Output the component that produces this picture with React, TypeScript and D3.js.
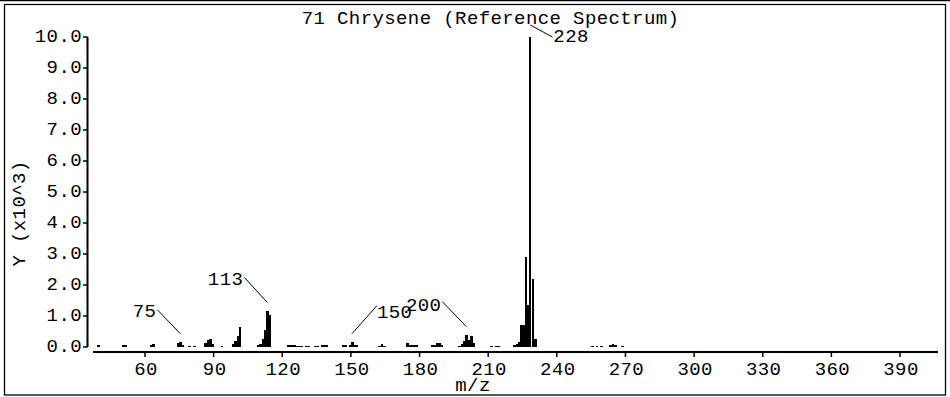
import React from "react";
import * as d3 from "d3";

const TITLE = "71 Chrysene (Reference Spectrum)";
const X_LABEL = "m/z";
const Y_LABEL = "Y (x10^3)";

// m/z values and abundances (x10^3)
const MZ = [
  39, 50, 51, 62, 63, 74, 75, 76, 79, 81,
  86, 87, 88, 89, 93, 98, 99, 100, 101,
  109, 110, 111, 112, 113, 114,
  122, 123, 124, 125, 126, 127, 128, 130, 131, 134, 135, 137, 138, 139,
  146, 147, 149, 150, 151, 152,
  162, 163, 164, 174, 175, 176, 177, 178,
  185, 186, 187, 188, 189,
  197, 198, 199, 200, 201, 202, 203,
  211, 213, 214, 221, 222, 223, 224, 225, 226, 227, 228, 229, 230,
  255, 257, 259, 263, 264, 265, 268,
];
const ABUNDANCE = [
  0.07, 0.08, 0.07, 0.06, 0.1, 0.12, 0.17, 0.07, 0.04, 0.04,
  0.12, 0.23, 0.25, 0.1, 0.04, 0.1, 0.2, 0.35, 0.66,
  0.05, 0.1, 0.25, 0.55, 1.15, 1.02,
  0.05, 0.05, 0.07, 0.05, 0.04, 0.03, 0.03, 0.04, 0.04, 0.04, 0.04, 0.05, 0.05, 0.05,
  0.05, 0.05, 0.06, 0.17, 0.07, 0.05,
  0.04, 0.1, 0.04, 0.13, 0.06, 0.07, 0.06, 0.05,
  0.05, 0.05, 0.13, 0.12, 0.05,
  0.04, 0.1, 0.2, 0.4, 0.22, 0.35, 0.12,
  0.03, 0.03, 0.03, 0.05, 0.1, 0.17, 0.7, 0.72, 2.9, 1.35, 10.0, 2.2, 0.25,
  0.03, 0.03, 0.03, 0.05, 0.1, 0.05, 0.03,
];
const LABELED_MZ = [75, 113, 150, 200, 228];

const X_TICKS = [60, 90, 120, 150, 180, 210, 240, 270, 300, 330, 360, 390];
const Y_TICKS = [0, 1, 2, 3, 4, 5, 6, 7, 8, 9, 10];

// label leader layout (pixels, relative to peak top)
const LABEL_LAYOUT: Record<number, { up: number; dx: number; dy: number; anchor: string; tx: number; ty: number }> = {
  75: { up: 8, dx: -23, dy: -24, anchor: "end", tx: -1, ty: 7 },
  113: { up: 9, dx: -23, dy: -25, anchor: "end", tx: -1, ty: 8 },
  150: { up: 8, dx: 25, dy: -28, anchor: "start", tx: 0, ty: 12 },
  200: { up: 8, dx: -24, dy: -25, anchor: "end", tx: -1, ty: 9 },
  228: { up: 12, dx: 22, dy: 12, anchor: "start", tx: 1, ty: 5 },
};

const W = 950;
const H = 397;
const FONT = "'Liberation Mono', 'DejaVu Sans Mono', monospace";
const FS = 19;

export default function App() {
  const x = d3.scaleLinear().domain([60, 390]).range([145, 900]);
  const y = d3.scaleLinear().domain([0, 10]).range([347, 37]);
  const fmt = d3.format(".1f");
  const axisY = 352;
  const axisX = 87.5;
  const barW = x(61) - x(60);

  const peaks = MZ.map((m, i) => ({ m, v: ABUNDANCE[i] }));

  return (
    <svg
      width={W}
      height={H}
      style={{ position: "absolute", left: 0, top: 0, background: "#fff" }}
      fontFamily={FONT}
      fontSize={FS}
    >
      <rect x={0} y={0} width={W} height={H} fill="#fff" />
      {/* frame */}
      <line x1={0} x2={W} y1={0.5} y2={0.5} stroke="#000" strokeWidth={1.5} />
      <rect x={4.5} y={4.5} width={941} height={390.5} fill="none" stroke="#000" strokeWidth={1.3} />

      {/* title */}
      <text x={490.5} y={24} textAnchor="middle" letterSpacing={0.4}>{TITLE}</text>

      {/* y axis */}
      <line x1={axisX} x2={axisX} y1={y(10)} y2={y(0)} stroke="#000" strokeWidth={2} />
      {Y_TICKS.map((t) => (
        <g key={t}>
          <line x1={axisX - 4.5} x2={axisX} y1={y(t)} y2={y(t)} stroke="#000" strokeWidth={1.5} />
          <text x={82} y={y(t) + 5} textAnchor="end" letterSpacing={0.4}>{fmt(t)}</text>
        </g>
      ))}
      <text
        transform={`translate(25, 213.5) rotate(-90)`}
        textAnchor="middle"
        letterSpacing={0.4}
      >
        {Y_LABEL}
      </text>

      {/* x axis */}
      <line x1={93} x2={938} y1={axisY} y2={axisY} stroke="#000" strokeWidth={2} />
      {X_TICKS.map((t) => (
        <g key={t}>
          <line x1={x(t)} x2={x(t)} y1={axisY} y2={axisY + 5} stroke="#000" strokeWidth={1.5} />
          <text x={x(t) + 1} y={375} textAnchor="middle" letterSpacing={0.4}>{t}</text>
        </g>
      ))}
      <text x={473} y={390.5} textAnchor="middle" letterSpacing={0.4}>{X_LABEL}</text>

      {/* spectrum bars */}
      <g shapeRendering="crispEdges">
        {peaks.map((p) => (
          <rect
            key={p.m}
            x={x(p.m)}
            y={y(p.v)}
            width={p.m === 228 ? 2 : barW + 0.4}
            height={Math.max(y(0) - y(p.v), 1)}
            fill="#000"
          />
        ))}
      </g>

      {/* peak labels */}
      {LABELED_MZ.map((m) => {
        const v = ABUNDANCE[MZ.indexOf(m)];
        const L = LABEL_LAYOUT[m];
        const sx = x(m) + 1;
        const sy = y(v) - L.up;
        const ex = sx + L.dx;
        const ey = sy + L.dy;
        return (
          <g key={m}>
            <line x1={sx} y1={sy} x2={ex} y2={ey} stroke="#000" strokeWidth={1} />
            <text x={ex + L.tx} y={ey + L.ty} textAnchor={L.anchor} letterSpacing={0.4}>{m}</text>
          </g>
        );
      })}
    </svg>
  );
}
